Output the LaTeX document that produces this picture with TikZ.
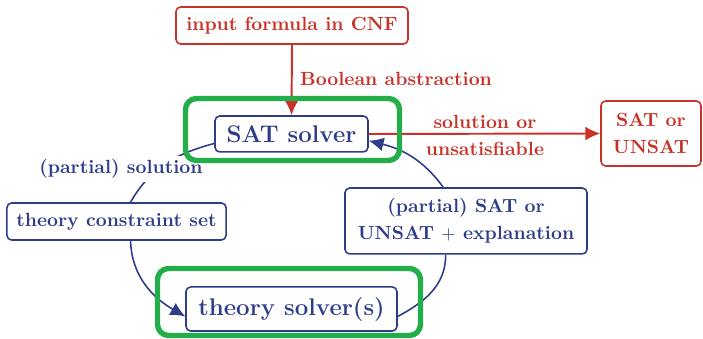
\documentclass[tikz,border=0pt]{standalone}
\usetikzlibrary{arrows.meta}
\definecolor{myblue}{RGB}{46,61,138}
\definecolor{myred}{RGB}{200,50,40}
\definecolor{mygreen}{RGB}{36,174,74}
\newcommand\normfont{\fontsize{10.3}{12.4}\selectfont\bfseries}
\newcommand\bigfont{\fontsize{13}{15}\selectfont\bfseries}
\begin{document}
\begin{tikzpicture}[x=0.54pt,y=-0.54pt,
  bbox/.style={draw=myblue,text=myblue,line width=0.85pt,rounded corners=2.5pt,font=\normfont,inner sep=0pt,align=center},
  rbox/.style={bbox,draw=myred,text=myred},
  gbox/.style={draw=mygreen,line width=2.9pt,rounded corners=6pt,inner sep=0pt},
  barrow/.style={draw=myblue,line width=0.85pt,-{Latex[length=8pt,width=7.5pt]}},
  bline/.style={draw=myblue,line width=0.85pt},
  rarrow/.style={draw=myred,line width=1.05pt,-{Latex[length=8pt,width=7.5pt]}},
  rlabel/.style={text=myred,font=\normfont,inner sep=1pt},
  blabel/.style={text=myblue,font=\normfont,inner sep=2pt,fill=white}
]
\useasboundingbox (0,0) rectangle (703,339);

\node[rbox,minimum width=125.3pt,minimum height=20pt] (cnf) at (292,25.5) {input formula in CNF};
\node[bbox,font=\bigfont,minimum width=82.6pt,minimum height=19.4pt] (sat) at (291.5,134) {SAT solver};
\node[rbox,minimum width=54pt,minimum height=35.1pt] (res) at (651,133.5) {SAT or\\[2.2pt]UNSAT};
\node[bbox,minimum width=118.3pt,minimum height=20pt] (tcs) at (116.5,221.5) {theory constraint set};
\node[bbox,minimum width=130.7pt,minimum height=35.6pt] (expl) at (466,221) {(partial) SAT or\\[2.2pt]UNSAT $+$ explanation};
\node[bbox,font=\bigfont,minimum width=113.9pt,minimum height=23.8pt] (th) at (291.5,309) {theory solver(s)};

% red arrows
\draw[rarrow] (cnf.south) -- (sat.north);
\node[rlabel,anchor=west] (ba) at (298,79) {Boolean abstraction};
\draw[rarrow] (sat.east) -- (res.west);
\node[rlabel] (sol1) at (485,122) {solution or};
\node[rlabel] (sol2) at (485,149) {unsatisfiable};

% blue cycle
\draw[bline] (sat.187) to[out=195,in=60] (tcs.54);
\node[blabel] (ps) at (121,169) {(partial) solution};
\draw[barrow] (tcs.-54) to[out=-88,in=150] (th.184);
\draw[bline] (th.-4) to[out=28,in=-90] (expl.-121);
\draw[barrow] (expl.124) to[out=126,in=-14] (sat.-5);

% green highlight boxes
\node[gbox,minimum width=115.6pt,minimum height=33.5pt] (g1) at (292.5,129.5) {};
\node[gbox,minimum width=142pt,minimum height=36.2pt] (g2) at (289,302) {};
\end{tikzpicture}
\end{document}
